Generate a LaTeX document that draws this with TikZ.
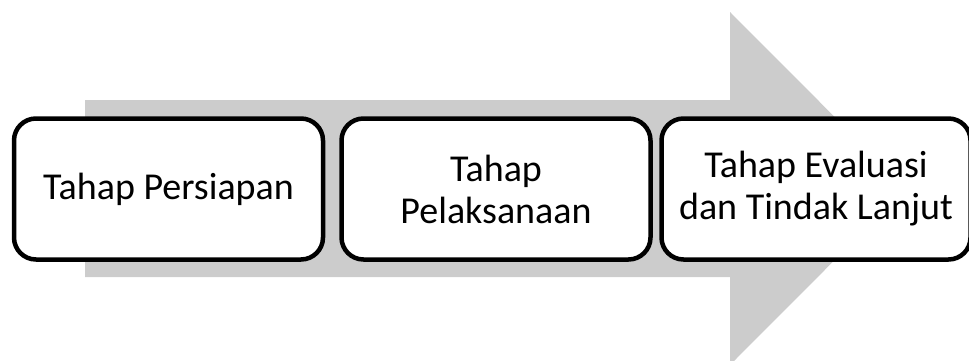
\documentclass[tikz,border=0pt]{standalone}
\usepackage{fontspec}
\setmainfont{Carlito}
\begin{document}
\begin{tikzpicture}[x=1pt,y=-1pt,
  stagebox/.style={draw=black, line width=4.5pt, fill=white, rounded corners=22pt,
    minimum width=309pt, minimum height=141pt, inner sep=0pt, align=center,
    font=\fontsize{38}{42}\selectfont},
]
\useasboundingbox (0,0) rectangle (969,360);
\fill[gray!40] (85,100) -- (730,100) -- (730,12) -- (906,188.5) -- (730,365) -- (730,277) -- (85,277) -- cycle;
\node[stagebox] (s1) at (168.5,189) {Tahap Persiapan};
\node[stagebox] (s2) at (496,189) {Tahap\\Pelaksanaan};
\node[stagebox] (s3) at (816,189) {Tahap Evaluasi\\dan Tindak Lanjut};
\end{tikzpicture}
\end{document}
